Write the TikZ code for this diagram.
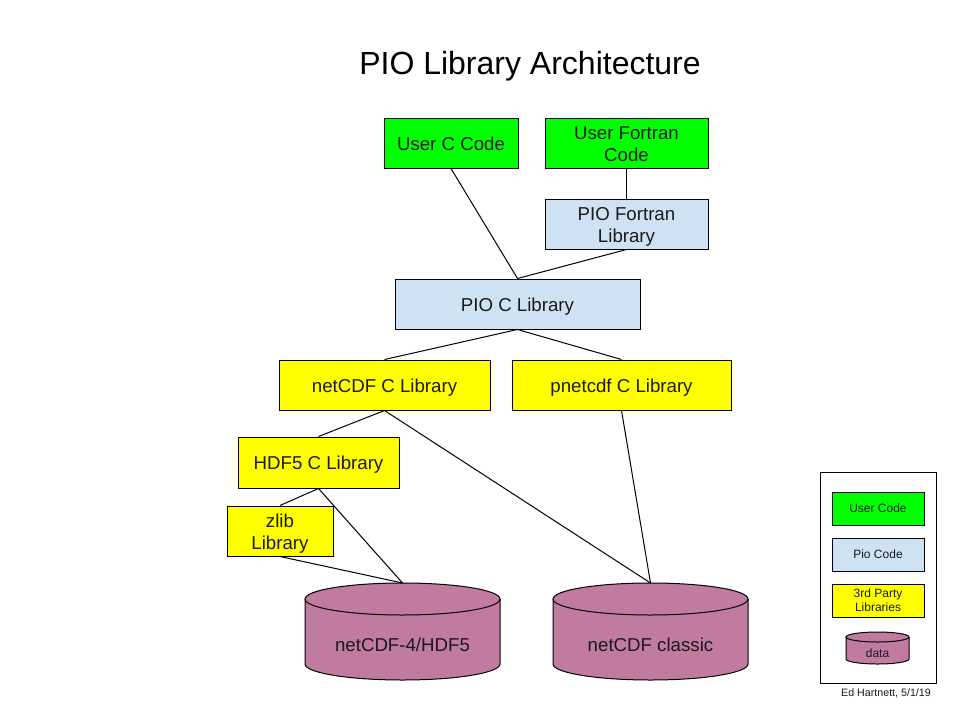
\documentclass[tikz,border=0pt]{standalone}
\usepackage{fontspec}
\setmainfont{Liberation Sans}
\definecolor{usergreen}{HTML}{00FF00}
\definecolor{pioblue}{HTML}{CFE2F3}
\definecolor{thirdyellow}{HTML}{FFFF00}
\definecolor{dbfill}{HTML}{C27BA0}
\definecolor{txt}{HTML}{1A1A1A}
\newcommand\lowtxt[2][3pt]{\raisebox{-#1}[\height][\depth]{\begin{tabular}{@{}c@{}}#2\end{tabular}}}
\newcommand\drawdb[8]{% #1 name, #2 cx, #3 top, #4 bottom, #5 rx, #6 ry, #7 text y, #8 label
  \fill[dbfill] ({#2-#5},{#3+#6}) -- ({#2-#5},{#4-#6})
    arc[start angle=180,end angle=360,x radius=#5pt,y radius=#6pt]
    -- ({#2+#5},{#3+#6})
    arc[start angle=0,end angle=180,x radius=#5pt,y radius=#6pt] -- cycle;
  \draw[outline] ({#2-#5},{#3+#6}) -- ({#2-#5},{#4-#6})
    arc[start angle=180,end angle=360,x radius=#5pt,y radius=#6pt]
    -- ({#2+#5},{#3+#6});
  \draw[outline] (#2,{#3+#6}) ellipse[x radius=#5pt,y radius=#6pt];
  \coordinate (#1top) at (#2,#3);
  \node[dbtext] (#1) at (#2,#7) {#8};
}
\begin{document}
\begin{tikzpicture}[x=1pt,y=-1pt,
  outline/.style={draw=black,line width=1pt},
  box/.style={draw=black,line width=1pt,inner sep=0pt,text=txt,
    font=\fontsize{18.67}{22}\selectfont},
  userbox/.style={box,fill=usergreen},
  piobox/.style={box,fill=pioblue},
  libbox/.style={box,fill=thirdyellow},
  legbox/.style={draw=black,line width=1pt,inner sep=0pt,text=txt,
    font=\fontsize{12}{14}\selectfont,minimum width=92pt,minimum height=33pt},
  dbtext/.style={text=txt,inner sep=0pt,font=\fontsize{18.67}{22}\selectfont},
  conn/.style={draw=black,line width=1pt}]
\useasboundingbox (0,0) rectangle (960,720);
\fill[white] (0,0) rectangle (960,720);

\node[text=black,inner sep=0pt,font=\fontsize{32}{36}\selectfont] (title) at (530,66) {PIO Library Architecture};

\node[userbox,minimum width=134pt,minimum height=50pt] (ucc) at (451,143) {\lowtxt{User C Code}};
\node[userbox,minimum width=163pt,minimum height=50pt] (ufc) at (626.5,143) {\lowtxt{User Fortran\\Code}};
\node[piobox,minimum width=163pt,minimum height=50pt] (pfl) at (626.5,224) {\lowtxt{PIO Fortran\\Library}};
\node[piobox,minimum width=245pt,minimum height=50pt] (pcl) at (517.5,304) {\lowtxt{PIO C Library}};
\node[libbox,minimum width=211pt,minimum height=50pt] (ncl) at (384.5,385) {\lowtxt{netCDF C Library}};
\node[libbox,minimum width=219pt,minimum height=50pt] (pnl) at (621.5,385) {\lowtxt{pnetcdf C Library}};
\node[libbox,minimum width=161pt,minimum height=51pt] (hdf) at (318.5,462.5) {\lowtxt{HDF5 C Library}};
\node[libbox,minimum width=106pt,minimum height=50pt] (zlib) at (280,531) {\lowtxt{zlib\\Library}};

\drawdb{dba}{402.5}{583}{680}{97.5}{16}{645}{netCDF-4/HDF5}
\drawdb{dbb}{650.5}{583}{680}{97.5}{16}{645}{netCDF classic}

\draw[conn] (ucc.south) -- (pcl.north);
\draw[conn] (pfl.south) -- (pcl.north);
\draw[conn] (ufc.south) -- (pfl.north);
\draw[conn] (pcl.south) -- (ncl.north);
\draw[conn] (pcl.south) -- (pnl.north);
\draw[conn] (ncl.south) -- (hdf.north);
\draw[conn] (ncl.south) -- (dbbtop);
\draw[conn] (pnl.south) -- (dbbtop);
\draw[conn] (hdf.south) -- (zlib.north);
\draw[conn] (hdf.south) -- (dbatop);
\draw[conn] (zlib.south) -- (dbatop);

% legend
\node[draw=black,line width=1pt,minimum width=116pt,minimum height=211pt,inner sep=0pt] (legend) at (878,577.5) {};
\node[legbox,fill=usergreen] (luc) at (878,508.5) {\lowtxt[1.5pt]{User Code}};
\node[legbox,fill=pioblue] (lpc) at (878,554.5) {\lowtxt[1.5pt]{Pio Code}};
\node[legbox,fill=thirdyellow] (ltp) at (878,600.5) {\lowtxt[1.5pt]{3rd Party\\Libraries}};
\drawdb{ldb}{877.5}{632}{664}{31.5}{5}{653}{\fontsize{12}{14}\selectfont data}

\node[text=txt,inner sep=0pt,font=\fontsize{10.67}{12}\selectfont] (footer) at (886,693) {Ed Hartnett, 5/1/19};
\end{tikzpicture}
\end{document}
